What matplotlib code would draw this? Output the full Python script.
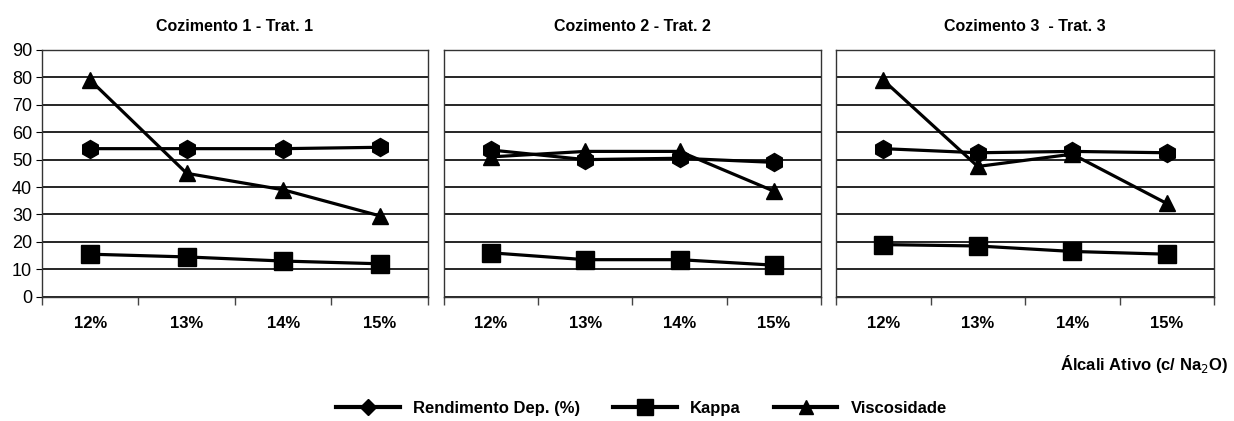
import matplotlib.pyplot as plt
from matplotlib.lines import Line2D

plt.rcParams['font.family'] = ['Liberation Sans Narrow', 'Liberation Sans', 'DejaVu Sans']

categories = ['12%', '13%', '14%', '15%']
titles = ['Cozimento 1 - Trat. 1', 'Cozimento 2 - Trat. 2', 'Cozimento 3  - Trat. 3']

# values, one list per panel
rendimento = [
    [54, 54, 54, 54.5],
    [53.5, 50, 50.5, 49],
    [54, 52.5, 53, 52.5],
]
kappa = [
    [15.5, 14.5, 13, 12],
    [16, 13.5, 13.5, 11.5],
    [19, 18.5, 16.5, 15.5],
]
viscosidade = [
    [79, 45, 39, 29.5],
    [51, 53, 53, 38.5],
    [79, 47.5, 52, 34],
]

fig = plt.figure(figsize=(12.34, 4.21), dpi=100)

# axes boxes in figure fractions
boxes = [
    (0.034, 0.2953, 0.3128, 0.586),
    (0.3598, 0.2953, 0.3055, 0.586),
    (0.6775, 0.2953, 0.3063, 0.586),
]

x = list(range(len(categories)))
for i, box in enumerate(boxes):
    ax = fig.add_axes(box)
    ax.plot(x, rendimento[i], color='black', lw=2.3, marker='h', ms=13)
    ax.plot(x, kappa[i], color='black', lw=2.3, marker='s', ms=13)
    ax.plot(x, viscosidade[i], color='black', lw=2.3, marker='^', ms=12)

    ax.set_xlim(-0.5, 3.5)
    ax.set_ylim(0, 90)
    ax.set_yticks(range(0, 91, 10))
    ax.yaxis.grid(True, color='black', lw=1.2)
    ax.set_axisbelow(True)

    ax.set_xticks(x)
    ax.set_xticklabels(categories, fontsize=12, fontweight='bold')
    ax.set_xticks([-0.5, 0.5, 1.5, 2.5, 3.5], minor=True)
    ax.tick_params(axis='x', which='major', length=0, pad=14)
    ax.tick_params(axis='x', which='minor', length=6, width=1, color='#444444')

    if i == 0:
        ax.tick_params(axis='y', length=4, labelsize=13, pad=3)
    else:
        ax.tick_params(axis='y', length=0, labelleft=False)

    for s in ax.spines.values():
        s.set_color('#333333')
        s.set_linewidth(1.0)

    ax.set_title(titles[i], fontsize=11.5, fontweight='bold', pad=14)

fig.text(0.995, 0.135, 'Álcali Ativo (c/ Na$_2$O)', ha='right', va='center',
         fontsize=12, fontweight='bold')

handles = [
    Line2D([], [], color='black', lw=3, marker='D', ms=8),
    Line2D([], [], color='black', lw=3, marker='s', ms=11),
    Line2D([], [], color='black', lw=3, marker='^', ms=10),
]
fig.legend(handles, ['Rendimento Dep. (%)', 'Kappa', 'Viscosidade'],
           loc='center', bbox_to_anchor=(0.52, 0.03), ncol=3, frameon=False,
           handlelength=3.8, columnspacing=2.0, prop={'size': 12, 'weight': 'bold'})

fig.savefig('out.png', dpi=100)
